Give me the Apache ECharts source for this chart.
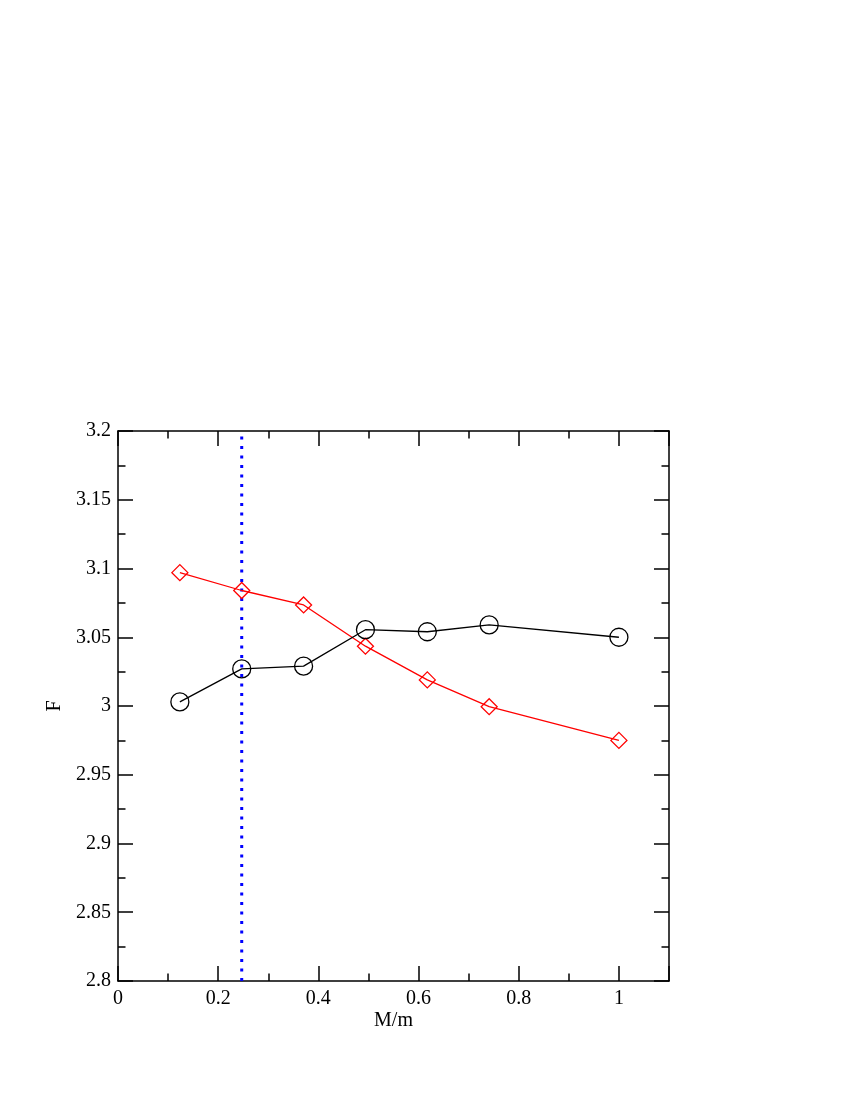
<!DOCTYPE html>
<html>
<head>
<meta charset="utf-8">
<script src="https://cdn.jsdelivr.net/npm/echarts@6/dist/echarts.min.js"></script>
<style>
html,body{margin:0;padding:0;background:#fff;}
#chart{width:850px;height:1100px;}
</style>
</head>
<body>
<div id="chart"></div>
<script>
const xValues = [0.1235, 0.247, 0.3705, 0.494, 0.6175, 0.741, 1.0];
const blackCircles = [3.003, 3.027, 3.029, 3.0555, 3.054, 3.059, 3.050];
const redDiamonds = [3.097, 3.084, 3.0735, 3.0435, 3.019, 2.9995, 2.975];
const refLineX = 0.247;
const yRange = [2.8, 3.2];
const xTitle = 'M/m';
const yTitle = 'F';

const font = 'Liberation Serif';
const pair = (xs, ys) => xs.map((x, i) => [x, ys[i]]);

const baseAxis = {
  axisLine: {show: true, onZero: false, lineStyle: {color: '#000', width: 1.5}},
  axisTick: {show: true, inside: true, length: 15, lineStyle: {color: '#000', width: 1.5}},
  minorTick: {show: true, splitNumber: 2, length: 7.5, lineStyle: {color: '#000', width: 1.5}},
  splitLine: {show: false},
  minorSplitLine: {show: false}
};

const chart = echarts.init(document.getElementById('chart'), null, {renderer: 'canvas'});
chart.setOption({
  animation: false,
  backgroundColor: '#fff',
  grid: {left: 118, right: 181, top: 431, bottom: 119, containLabel: false},
  xAxis: [
    Object.assign({}, baseAxis, {
      type: 'value', min: 0, max: 1.1, interval: 0.2, position: 'bottom',
      name: xTitle, nameLocation: 'middle', nameGap: 30,
      nameTextStyle: {fontFamily: font, fontSize: 20, color: '#000'},
      axisLabel: {fontFamily: font, fontSize: 20, color: '#000', margin: 8,
        formatter: v => (Math.abs(v * 5 - Math.round(v * 5)) < 1e-6 ? String(+v.toFixed(2)) : '')}
    }),
    Object.assign({}, baseAxis, {
      type: 'value', min: 0, max: 1.1, interval: 0.2, position: 'top',
      axisLabel: {show: false}
    })
  ],
  yAxis: [
    Object.assign({}, baseAxis, {
      type: 'value', min: yRange[0], max: yRange[1], interval: 0.05, position: 'left',
      name: yTitle, nameLocation: 'middle', nameGap: 51,
      nameTextStyle: {fontFamily: font, fontSize: 20, color: '#000'},
      axisLabel: {fontFamily: font, fontSize: 20, color: '#000', margin: 7,
        formatter: v => String(+v.toFixed(2))}
    }),
    Object.assign({}, baseAxis, {
      type: 'value', min: yRange[0], max: yRange[1], interval: 0.05, position: 'right',
      axisLabel: {show: false}
    })
  ],
  series: [
    {
      type: 'line', xAxisIndex: 0, yAxisIndex: 0,
      data: [[refLineX, yRange[0]], [refLineX, yRange[1]]],
      symbol: 'none', silent: true,
      lineStyle: {color: '#0000ff', width: 3, type: [3, 6.5]},
      z: 1
    },
    {
      type: 'line', xAxisIndex: 0, yAxisIndex: 0,
      data: pair(xValues, redDiamonds),
      symbol: 'diamond', symbolSize: 16,
      lineStyle: {color: '#ff0000', width: 1.3},
      itemStyle: {color: 'rgba(0,0,0,0)', borderColor: '#ff0000', borderWidth: 1.3},
      z: 3
    },
    {
      type: 'line', xAxisIndex: 0, yAxisIndex: 0,
      data: pair(xValues, blackCircles),
      symbol: 'circle', symbolSize: 18,
      lineStyle: {color: '#000', width: 1.3},
      itemStyle: {color: 'rgba(0,0,0,0)', borderColor: '#000', borderWidth: 1.3},
      z: 3
    }
  ]
});
</script>
</body>
</html>
